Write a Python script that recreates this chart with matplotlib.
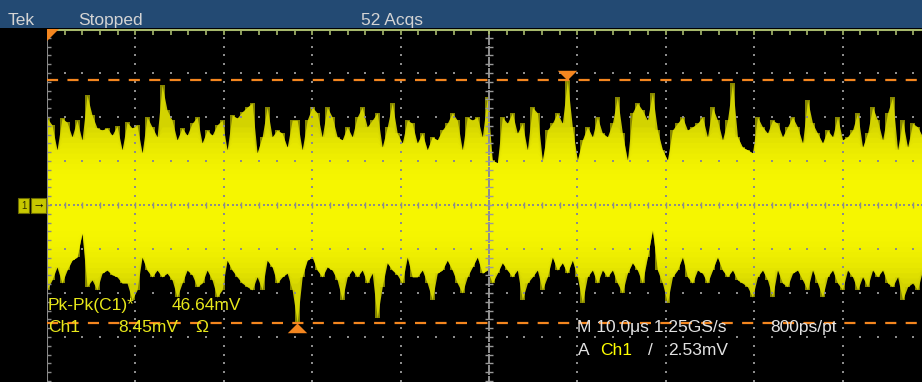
"""Redraw a Tek scope capture: noisy Ch1 trace with the Pk-Pk cursors on it."""

import matplotlib

matplotlib.use("Agg")
import matplotlib.pyplot as plt
import numpy as np
from matplotlib.patches import Polygon, Rectangle

# scope settings
TIME_PER_DIV_US = 10.0
VOLTS_PER_DIV_MV = 8.45
T_START_US = -50.0
SAMPLE_STEP_US = 0.566  # one min/max column of the trace below

# per-column max / min of the Ch1 trace in mV, left to right
TRACE_MAX_MV = [
    16.7, 15.4, 10.6, 16.7, 15.9, 13.1, 16.3, 12.5, 21.1, 17.3, 14.8,
    14.4, 14.8, 13.4, 15.2, 10.6, 15.9, 14.8, 15.4, 10.0, 16.9, 15.0,
    13.1, 23.0, 18.2, 16.3, 12.5, 14.8, 13.4, 15.7, 16.9, 11.9, 14.4,
    13.4, 15.4, 16.3, 10.6, 17.3, 16.7, 17.9, 18.8, 19.6, 10.0, 13.1,
    18.8, 13.1, 14.4, 13.8, 11.1, 16.3, 16.3, 10.6, 16.3, 18.8, 17.7,
    13.1, 18.8, 16.9, 13.1, 12.5, 15.0, 13.1, 16.9, 18.8, 15.0, 16.3,
    17.7, 11.1, 15.0, 19.6, 13.8, 11.9, 16.3, 15.7, 11.9, 13.8, 10.6,
    13.1, 12.5, 14.4, 15.7, 17.7, 16.3, 10.6, 16.9, 16.3, 16.9, 13.1,
    20.7, 8.6, 8.1, 16.9, 15.7, 17.7, 13.8, 15.7, 10.6, 18.8, 17.7,
    8.6, 14.4, 15.7, 17.7, 15.7, 24.00, 15.0, 8.6, 12.5, 15.0, 13.1,
    16.9, 13.8, 13.1, 15.7, 20.7, 13.8, 8.6, 17.7, 19.6, 18.2, 16.3,
    21.5, 14.4, 10.6, 8.6, 14.4, 15.7, 16.9, 14.4, 15.0, 15.7, 16.9,
    13.1, 18.8, 16.3, 12.5, 16.3, 23.4, 13.1, 11.1, 10.6, 10.0, 16.9,
    15.0, 13.8, 16.3, 15.7, 13.1, 15.0, 16.9, 15.0, 11.9, 20.2, 15.7,
    13.8, 11.9, 14.4, 13.1, 16.9, 12.5, 13.1, 14.4, 17.7, 11.1, 13.8,
    18.8, 16.3, 12.5, 17.7, 20.7, 10.6, 16.3, 11.1, 15.7, 15.0, 13.1,
]
TRACE_MIN_MV = [
    -16.3, -14.4, -11.9, -15.0, -12.5, -10.6, -10.0, -5.4, -15.7, -14.4, -16.3,
    -13.1, -12.5, -13.4, -13.8, -15.0, -15.0, -18.2, -16.3, -10.0, -12.5, -13.8,
    -12.5, -13.8, -13.1, -14.4, -17.7, -15.0, -12.5, -13.4, -15.7, -15.0, -12.5,
    -14.4, -17.7, -16.3, -10.6, -12.5, -13.8, -15.0, -15.7, -16.3, -13.8, -16.3,
    -10.6, -11.9, -15.0, -13.8, -13.1, -16.3, -22.64, -13.8, -10.6, -10.0, -12.5,
    -13.8, -11.9, -12.5, -14.4, -18.2, -13.8, -12.5, -13.8, -12.5, -15.0, -13.1,
    -21.7, -15.7, -11.1, -12.5, -13.4, -15.0, -10.0, -13.8, -13.8, -12.5, -15.0,
    -18.2, -13.1, -12.5, -10.6, -12.5, -15.0, -16.9, -13.8, -11.9, -10.0, -13.1,
    -12.5, -15.0, -13.1, -11.1, -12.5, -13.8, -12.5, -18.2, -15.0, -13.8, -12.5,
    -16.3, -13.8, -10.0, -12.5, -11.1, -13.1, -10.6, -13.8, -18.8, -13.8, -12.5,
    -15.0, -12.5, -13.8, -12.5, -15.0, -16.9, -13.1, -11.1, -12.5, -15.0, -10.0,
    -4.8, -12.5, -15.0, -18.8, -13.8, -12.5, -10.0, -13.8, -15.0, -12.5, -13.1,
    -15.0, -12.5, -10.0, -12.5, -13.8, -12.5, -14.4, -15.0, -15.7, -17.7, -13.8,
    -12.5, -14.4, -17.7, -12.5, -15.0, -15.7, -13.1, -12.5, -14.4, -16.3, -12.5,
    -15.0, -17.7, -13.8, -12.5, -15.0, -16.3, -12.5, -13.8, -16.3, -13.8, -15.7,
    -12.5, -13.8, -12.5, -15.0, -15.7, -13.8, -18.2, -15.7, -15.0, -16.3, -12.5,
]

STATUS_TEXT = ["Tek", "Stopped", "52 Acqs"]
MEAS_TEXT = ["Pk-Pk(C1)*", "46.64mV"]
CHAN_TEXT = ["Ch1", "8.45mV", "\u03a9"]
HORIZ_TEXT = ["M 10.0\u03bcs 1.25GS/s", "800ps/pt"]
TRIG_TEXT = ["A", "Ch1", "/", "2.53mV"]

# screen geometry in pixels
FIG_W, FIG_H = 922, 382
GRID_LEFT, GRID_TOP, CENTER_Y = 47, 29, 205
PX_PER_DIV_X, PX_PER_DIV_Y = 88.4, 44.0

FONT = ["Liberation Sans", "DejaVu Sans"]
YELLOW = "#ffff00"
ORANGE = "#f4861f"
GRID_GREY = "#8c8c8c"


def draw_graticule(ax):
    """Dotted division lines, centre cross and the screen borders."""
    vpd, tpd = VOLTS_PER_DIV_MV, TIME_PER_DIV_US
    dot = dict(marker="s", s=1.3, linewidths=0, color=GRID_GREY, zorder=5)
    ys = np.arange(-20, 21) * 0.2 * vpd
    xs = T_START_US + np.arange(0, 51) * 0.2 * tpd
    for k in range(1, 10):
        if k == 5:
            continue
        ax.scatter(np.full(ys.shape, T_START_US + k * tpd), ys, **dot)
    for j in (-3, -2, -1, 1, 2, 3):
        ax.scatter(xs, np.full(xs.shape, j * vpd), **dot)

    # centre cross: dense dots plus a tick every minor division
    t0 = T_START_US + 5 * tpd
    fine_x = T_START_US + np.arange(0, 201) * 0.05 * tpd
    fine_y = np.arange(-80, 81) * 0.05 * vpd
    ax.scatter(fine_x, np.zeros(fine_x.shape), **dot)
    ax.scatter(np.full(fine_y.shape, t0), fine_y, **dot)
    ax.plot(xs, np.zeros(xs.shape), ls="none", marker="|", ms=4.5,
            mew=1.0, color=GRID_GREY, zorder=5)
    ax.plot(np.full(ys.shape, t0), ys, ls="none", marker="_", ms=6,
            mew=1.0, color="#9a9a9a", zorder=5)

    # borders
    ax.axvline(T_START_US, color="#8a8a8a", lw=1.5, zorder=5)
    ax.plot(np.full(ys.shape, T_START_US), ys, ls="none", marker=1, ms=3,
            mew=1.0, color="#8a8a8a", zorder=5)
    ax.axhline(4 * vpd, color="#a6b86c", lw=2.2, zorder=5)
    ax.plot(xs, np.full(xs.shape, 4 * vpd), ls="none", marker=3, ms=4,
            mew=1.2, color="#a6b86c", zorder=5)


def draw_trace(ax):
    """Min/max columns of the acquisition with a brighter dense core."""
    t = T_START_US + np.arange(len(TRACE_MAX_MV)) * SAMPLE_STEP_US
    hi = np.array(TRACE_MAX_MV)
    lo = np.array(TRACE_MIN_MV)
    ax.fill_between(t, lo, hi, color="#c4c400", lw=0, zorder=2)
    ax.fill_between(t, lo, hi, color="#dede00", lw=0, step="mid", alpha=0.6, zorder=2.05)
    # intensity grading: more hits near the middle, so brighter there
    for lim in np.arange(15.0, 4.0, -1.0):
        ax.fill_between(t, np.maximum(lo, -lim), np.minimum(hi, lim),
                        color=YELLOW, alpha=0.16, lw=0, zorder=2.2)

    # Pk-Pk cursors sit on the extreme samples
    i_hi, i_lo = int(np.argmax(hi)), int(np.argmin(lo))
    for level in (hi[i_hi], lo[i_lo]):
        ax.axhline(level, color=ORANGE, lw=1.6, dashes=(5.0, 4.2), zorder=6)
    down = [(-1, 1), (1, 1), (0, 0)]
    up = [(-1, -1), (1, -1), (0, 0)]
    ax.plot(t[i_hi], hi[i_hi], marker=down, ms=14, color=ORANGE, mew=0, zorder=7)
    ax.plot(t[i_lo], lo[i_lo], marker=up, ms=14, color=ORANGE, mew=0, zorder=7)


def draw_readouts(ov):
    """Status bar, channel marker and the measurement text (pixel coords)."""
    ov.add_patch(Rectangle((0, 0), FIG_W, GRID_TOP - 1, color="#234a73", lw=0))
    text = dict(family=FONT, fontsize=12.5, va="baseline", ha="left")
    grey = "#d4d4d4"
    for label, x in zip(STATUS_TEXT, (8, 78, 361)):
        ov.text(x, 25, label, color=grey, **text)

    # trigger position flag in the top left corner
    ov.add_patch(Polygon([(GRID_LEFT, GRID_TOP), (GRID_LEFT + 12, GRID_TOP),
                          (GRID_LEFT, GRID_TOP + 12)], color=ORANGE, lw=0))

    # channel 1 ground marker
    ov.add_patch(Rectangle((18, 198), 11, 15, fc="#c8c800", ec="#6a6a00", lw=0.8))
    ov.add_patch(Rectangle((31, 198), 15, 15, fc="#c8c800", ec="#6a6a00", lw=0.8))
    ov.text(23.5, 206, "1", color="#303000", fontsize=7, family=FONT,
            ha="center", va="center")
    ov.text(38.5, 205.5, "\u2192", color="#000000", fontsize=9, family=FONT,
            ha="center", va="center", fontweight="bold")

    meas_yellow = "#e8e81a"
    ov.text(48, 310, MEAS_TEXT[0], color=meas_yellow, **text)
    ov.text(172, 310, MEAS_TEXT[1], color=meas_yellow, **text)
    for label, x in zip(CHAN_TEXT, (48, 118, 195)):
        ov.text(x, 332, label, color=meas_yellow, **text)

    white = "#e2e2e2"
    ov.text(577, 332, HORIZ_TEXT[0], color=white, **text)
    ov.text(770, 332, HORIZ_TEXT[1], color=white, **text)
    colors = (white, YELLOW, white, white)
    for label, x, c in zip(TRIG_TEXT, (578, 600, 648, 668), colors):
        ov.text(x, 355, label, color=c, **text)


def main() -> None:
    """Build the figure and save it as out.png."""
    fig = plt.figure(figsize=(FIG_W / 100, FIG_H / 100), dpi=100)
    fig.patch.set_facecolor("black")

    bg = fig.add_axes([0, 0, 1, 1], zorder=0)
    bg.set_facecolor("black")
    bg.set_axis_off()

    ax = fig.add_axes([GRID_LEFT / FIG_W, 0, (FIG_W - GRID_LEFT) / FIG_W,
                       (FIG_H - GRID_TOP) / FIG_H], zorder=1)
    ax.set_facecolor("black")
    ax.set_xlim(T_START_US, T_START_US + (FIG_W - GRID_LEFT) / PX_PER_DIV_X * TIME_PER_DIV_US)
    ax.set_ylim(-(FIG_H - CENTER_Y) / PX_PER_DIV_Y * VOLTS_PER_DIV_MV,
                (CENTER_Y - GRID_TOP) / PX_PER_DIV_Y * VOLTS_PER_DIV_MV)
    ax.set_axis_off()
    draw_trace(ax)
    draw_graticule(ax)

    ov = fig.add_axes([0, 0, 1, 1], zorder=2)
    ov.set_xlim(0, FIG_W)
    ov.set_ylim(FIG_H, 0)
    ov.patch.set_alpha(0)
    ov.set_axis_off()
    draw_readouts(ov)

    fig.savefig("out.png", dpi=100, facecolor="black")
    plt.close(fig)


if __name__ == "__main__":
    main()
